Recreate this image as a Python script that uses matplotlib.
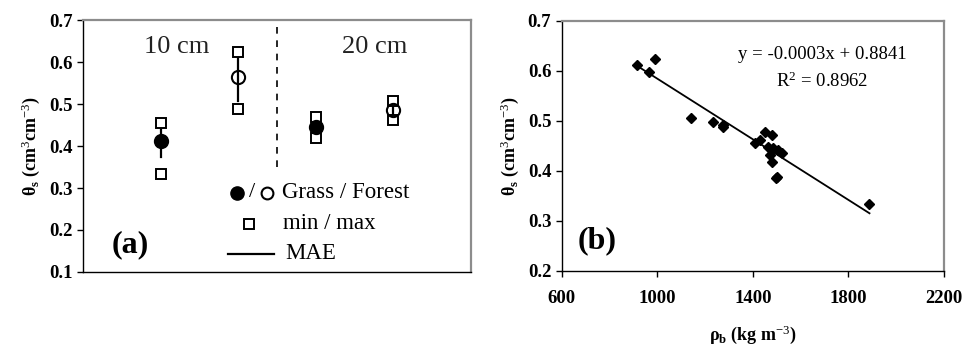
import matplotlib
matplotlib.use("Agg")
import matplotlib.pyplot as plt
import numpy as np

plt.rcParams['font.family'] = ['Liberation Serif', 'DejaVu Serif']
plt.rcParams['mathtext.fontset'] = 'custom'
plt.rcParams['mathtext.rm'] = 'Liberation Serif'
plt.rcParams['mathtext.it'] = 'Liberation Serif:italic'
plt.rcParams['mathtext.bf'] = 'Liberation Serif:bold'

# ---- panel (a): saturated water content by land use and depth ----
depth_labels = ['10 cm', '20 cm']
positions = [1, 2, 3, 4]             # grass 10, forest 10, grass 20, forest 20
is_grass = [True, False, True, False]
theta_mean = [0.411, 0.564, 0.446, 0.486]
theta_min = [0.333, 0.489, 0.419, 0.461]
theta_max = [0.454, 0.623, 0.469, 0.506]
theta_mae = [0.036, 0.058, 0.012, 0.020]

# ---- panel (b): theta_s vs bulk density ----
rho_b = [916, 965, 990, 1141, 1235, 1276, 1276, 1409, 1430, 1451, 1479, 1465,
         1486, 1506, 1521, 1472, 1479, 1497, 1499, 1888]
theta_s = [0.612, 0.597, 0.623, 0.505, 0.498, 0.492, 0.487, 0.455, 0.462, 0.478,
           0.472, 0.448, 0.445, 0.442, 0.435, 0.432, 0.418, 0.385, 0.388, 0.333]
# trend line as drawn in the figure (slope / intercept)
fit_slope = -0.0003035
fit_intercept = 0.8880
fit_text = 'y = -0.0003x + 0.8841'
r2_text = r'R$^2$ = 0.8962'

tick_size = 13.5
label_font = dict(fontsize=13, fontweight='bold')


def style_axes(ax):
    for s in ['top', 'right']:
        ax.spines[s].set_color('#8c8c8c')
        ax.spines[s].set_linewidth(1.6)
    for s in ['left', 'bottom']:
        ax.spines[s].set_color('black')
        ax.spines[s].set_linewidth(1.0)
    ax.tick_params(direction='out', length=4, width=1, color='black')
    ax.tick_params(axis='x', pad=10)
    for lab in ax.get_yticklabels() + ax.get_xticklabels():
        lab.set_fontsize(tick_size)
        lab.set_fontweight('bold')


fig = plt.figure(figsize=(9.64, 3.48), dpi=100)
ax1 = fig.add_axes([0.0861, 0.2184, 0.4025, 0.7241])
ax2 = fig.add_axes([0.5827, 0.2221, 0.3966, 0.7176])

# panel (a)
for x, g, m, lo, hi, e in zip(positions, is_grass, theta_mean, theta_min, theta_max, theta_mae):
    ax1.plot([x, x], [m - e, m + e], color='black', lw=1.6, zorder=2)
    ax1.plot([x, x], [lo, hi], ls='none', marker='s', ms=7, mfc='white',
             mec='black', mew=1.4, zorder=3)
    ax1.plot([x], [m], ls='none', marker='o', ms=9.5,
             mfc='black' if g else 'none', mec='black', mew=1.5, zorder=4)

ax1.axvline(2.5, ymin=(0.35 - 0.1) / 0.6, ymax=1, color='black', lw=1.2,
            ls=(0, (4, 4)), zorder=1)
ax1.text(1.21, 0.636, depth_labels[0], fontsize=19, color='#222222', ha='center', va='center')
ax1.text(3.76, 0.636, depth_labels[1], fontsize=19, color='#222222', ha='center', va='center')
ax1.text(0.122, 0.108, '(a)', transform=ax1.transAxes, fontsize=23,
         fontweight='bold', ha='center', va='center')

# legend drawn by hand
ax1.plot([0.397], [0.314], transform=ax1.transAxes, marker='o', ms=9.5,
         mfc='black', mec='black', clip_on=False)
ax1.text(0.436, 0.314, '/', transform=ax1.transAxes, fontsize=16,
         ha='center', va='center')
ax1.plot([0.474], [0.314], transform=ax1.transAxes, marker='o', ms=8.5,
         mfc='none', mec='black', mew=1.5, clip_on=False)
ax1.text(0.513, 0.314, 'Grass / Forest', transform=ax1.transAxes, fontsize=16.5,
         ha='left', va='center')
ax1.plot([0.428], [0.191], transform=ax1.transAxes, marker='s', ms=6.5,
         mfc='white', mec='black', mew=1.4, clip_on=False)
ax1.text(0.515, 0.191, 'min / max', transform=ax1.transAxes, fontsize=16.5,
         ha='left', va='center')
ax1.plot([0.373, 0.492], [0.072, 0.072], transform=ax1.transAxes,
         color='black', lw=1.6)
ax1.text(0.521, 0.072, 'MAE', transform=ax1.transAxes, fontsize=16.5,
         ha='left', va='center')

ax1.set_xlim(0, 5)
ax1.set_ylim(0.1, 0.7)
ax1.set_yticks(np.arange(0.1, 0.71, 0.1))
ax1.set_yticklabels([f'{v:.1f}' for v in np.arange(0.1, 0.71, 0.1)])
ax1.set_xticks([])
ax1.set_ylabel(r'$\mathrm{\mathbf{\theta_s}}$ (cm$^3$cm$^{-3}$)', labelpad=5, **label_font)
style_axes(ax1)

# panel (b)
ax2.plot(rho_b, theta_s, ls='none', marker='D', ms=5, color='black', zorder=3)
xf = np.array([min(rho_b), max(rho_b)])
ax2.plot(xf, fit_slope * xf + fit_intercept, color='black', lw=1.3, zorder=2)
ax2.text(0.681, 0.864, fit_text, transform=ax2.transAxes, fontsize=13.5,
         ha='center', va='center')
ax2.text(0.681, 0.757, r2_text, transform=ax2.transAxes, fontsize=13.5,
         ha='center', va='center')
ax2.text(0.0926, 0.122, '(b)', transform=ax2.transAxes, fontsize=23,
         fontweight='bold', ha='center', va='center')

ax2.set_xlim(600, 2200)
ax2.set_ylim(0.2, 0.7)
ax2.set_xticks([600, 1000, 1400, 1800, 2200])
ax2.set_yticks(np.arange(0.2, 0.71, 0.1))
ax2.set_yticklabels([f'{v:.1f}' for v in np.arange(0.2, 0.71, 0.1)])
ax2.set_xlabel(r'$\mathrm{\mathbf{\rho_b}}$ (kg m$^{-3}$)', labelpad=12, **label_font)
ax2.set_ylabel(r'$\mathrm{\mathbf{\theta_s}}$ (cm$^3$cm$^{-3}$)', labelpad=5, **label_font)
style_axes(ax2)

fig.savefig('out.png', dpi=100)
